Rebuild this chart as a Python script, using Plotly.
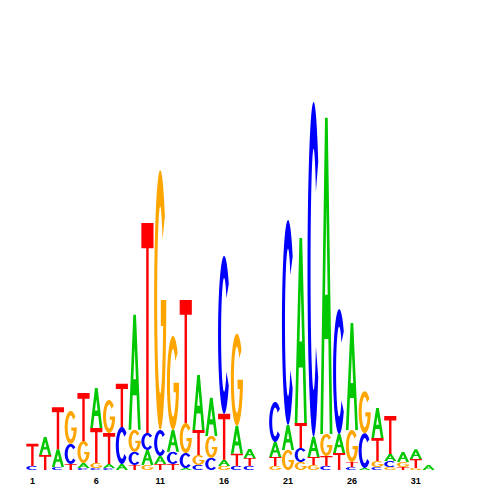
import numpy as np
import plotly.graph_objects as go

# sequence logo, heights in bits per position (1..32)
positions = list(range(1, 33))
a_bits = [0, .092, .092, 0, .026, .205, .021, .031, .59, .077, .041, .113, .01, .282, .195, .031,
          .144, .046, 0, .077, .128, .949, .103, 1.621, .097, .549, .01, .154, .036, .051, .051, .026]
c_bits = [.021, 0, .015, .103, .01, .01, .01, .19, .067, .087, .133, .062, .077, .026, .062, .81,
          .021, .021, 0, .205, 1.051, .072, 1.718, .021, .641, .015, .179, .015, .031, 0, 0, 0]
g_bits = [0, 0, 0, .169, .113, .026, .169, 0, .113, .026, 1.333, .482, .154, .051, .113, .021,
          .472, 0, 0, .021, .103, .041, .026, .113, 0, .164, .215, .031, .015, .026, .01, 0]
t_bits = [.113, .077, .215, .031, .246, .179, .159, .221, .026, 1.077, .031, .031, .631, .128, 0, .236,
          .062, .041, 0, .046, 0, .128, .041, .051, .087, .026, 0, .118, .195, .015, .046, 0]
tick_positions = [1, 6, 11, 16, 21, 26, 31]

colors = {'A': '#00c800', 'C': '#0000ff', 'G': '#ffa500', 'T': '#ff0000'}


def arc(rx, ry, a0, a1, n=48):
    t = np.radians(np.linspace(a0, a1, n))
    return list(zip(0.5 + rx * np.cos(t), 0.5 + ry * np.sin(t)))


def glyph(letter):
    # outlines in a unit box, list of rings (evenodd fill)
    if letter == 'T':
        return [[(0, 1), (1, 1), (1, .88), (.6, .88), (.6, 0), (.4, 0), (.4, .88), (0, .88)]]
    if letter == 'A':
        k = 0.389
        return [[(0, 0), (.39, 1), (.61, 1), (1, 0), (.78, 0), (.78 - k * .3, .3), (.22 + k * .3, .3), (.22, 0)],
                [(.22 + k * .44, .44), (.78 - k * .44, .44), (.5, .72)]]
    ro, ix, iy = 0.5, 0.25, 0.36
    if letter == 'C':
        return [arc(ro, ro, 40, 320) + arc(ix, iy, 320, 40)]
    # G
    phi = -np.degrees(np.arcsin(0.1 / iy))
    ring = arc(ro, ro, 40, 360)
    ring += [(0.55, 0.5), (0.55, 0.4)]
    ring += arc(ix, iy, 360 + phi, 40)
    return [ring]


fig = go.Figure()
fig.add_trace(go.Scatter(x=positions, y=[0] * len(positions), mode='markers',
                         marker=dict(opacity=0), hoverinfo='skip', showlegend=False))

w = 0.95
shapes = []
for i, p in enumerate(positions):
    stack = sorted([('A', a_bits[i]), ('C', c_bits[i]), ('G', g_bits[i]), ('T', t_bits[i])],
                   key=lambda s: s[1])
    y0 = 0
    for letter, h in stack:
        if h <= 0:
            continue
        path = ''
        for ring in glyph(letter):
            pts = ['%.4f,%.5f' % (p - w / 2 + ux * w, y0 + uy * h) for ux, uy in ring]
            path += 'M' + ' L'.join(pts) + ' Z '
        shapes.append(dict(type='path', path=path, xref='x', yref='y', fillcolor=colors[letter],
                           line=dict(width=0), fillrule='evenodd', layer='above'))
        y0 += h

# page body adds 8px, margins compensate
fig.update_layout(
    shapes=shapes,
    width=500, height=500,
    margin=dict(l=18, r=73, t=72, b=38),
    plot_bgcolor='white', paper_bgcolor='white',
    showlegend=False,
    xaxis=dict(range=[0.5, 32.5], tickmode='array', tickvals=tick_positions,
               ticktext=[str(v) for v in tick_positions], showgrid=False, zeroline=False,
               showline=False, ticks='', ticklabelstandoff=4,
               tickfont=dict(family='Liberation Sans', size=9, color='black', weight='bold')),
    yaxis=dict(range=[0, 2], visible=False, showgrid=False, zeroline=False),
)

fig.write_html("out.html")
